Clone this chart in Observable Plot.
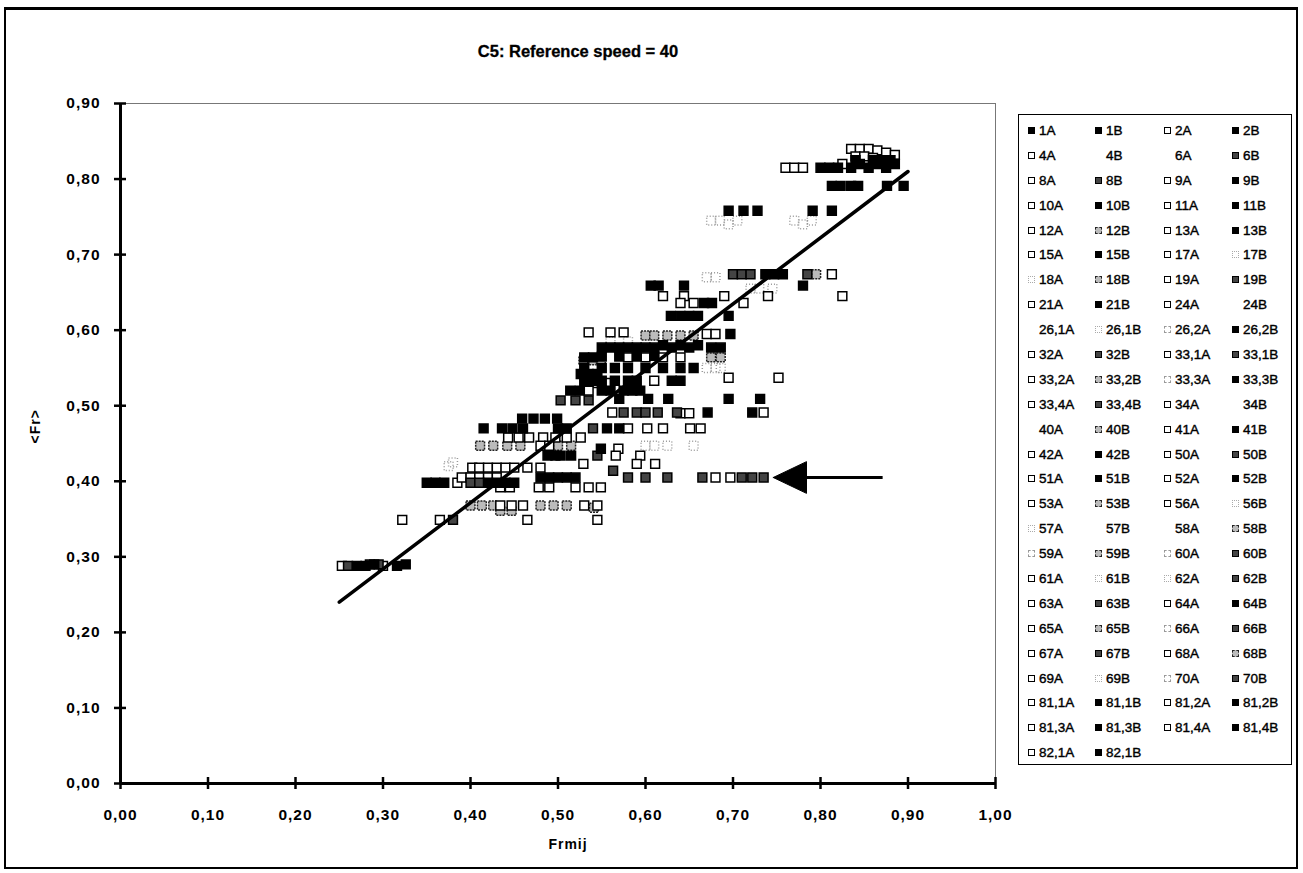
<!DOCTYPE html>
<html>
<head>
<meta charset="utf-8">
<script src="https://cdn.jsdelivr.net/npm/d3@7"></script>
<script src="https://cdn.jsdelivr.net/npm/@observablehq/plot@0.6"></script>
<style>
  html, body { margin: 0; padding: 0; background: #fff; }
  #page { position: relative; width: 1303px; height: 873px; overflow: hidden; font-family: "Liberation Sans", Arial, sans-serif; color: #000; }
  #outer { position: absolute; left: 4px; top: 7px; width: 1294px; height: 862px; box-sizing: border-box; border: 2px solid #000; border-top-width: 3px; }
  #title { position: absolute; left: 378px; width: 400px; top: 42px; text-align: center; font-size: 16.5px; font-weight: bold; -webkit-text-stroke: 0.3px #000; }
  #chart { position: absolute; left: 0; top: 0; }
  #legend { position: absolute; left: 1018px; top: 114px; width: 274px; height: 651px; box-sizing: border-box; border: 1px solid #000; padding: 3px 0 0 9px; display: grid; grid-template-columns: 67px 69px 68px 60px; grid-auto-rows: 24.9px; font-size: 13.5px; -webkit-text-stroke: 0.4px #000; background: #fff; }
  .item { display: flex; align-items: center; white-space: nowrap; }
  .mk { width: 7px; height: 7px; box-sizing: border-box; margin-right: 4px; flex: none; }
</style>
</head>
<body>
<div id="page">
  <div id="outer"></div>
  <div id="title">C5: Reference speed = 40</div>
  <div id="chart"></div>
  <div id="legend"></div>
</div>
<script>
// ---- axis ticks ----
const xTicks = [0, 0.1, 0.2, 0.3, 0.4, 0.5, 0.6, 0.7, 0.8, 0.9, 1.0];
const yTicks = [0, 0.1, 0.2, 0.3, 0.4, 0.5, 0.6, 0.7, 0.8, 0.9];
const xLabel = "Frmij";
const yLabel = "<Fr>";

// ---- legend series ----
const seriesNames = ["1A","1B","2A","2B","4A","4B","6A","6B","8A","8B","9A","9B","10A","10B","11A","11B","12A","12B","13A","13B","15A","15B","17A","17B","18A","18B","19A","19B","21A","21B","24A","24B","26,1A","26,1B","26,2A","26,2B","32A","32B","33,1A","33,1B","33,2A","33,2B","33,3A","33,3B","33,4A","33,4B","34A","34B","40A","40B","41A","41B","42A","42B","50A","50B","51A","51B","52A","52B","53A","53B","56A","56B","57A","57B","58A","58B","59A","59B","60A","60B","61A","61B","62A","62B","63A","63B","64A","64B","65A","65B","66A","66B","67A","67B","68A","68B","69A","69B","70A","70B","81,1A","81,1B","81,2A","81,2B","81,3A","81,3B","81,4A","81,4B","82,1A","82,1B"];
// marker style per series: F filled, D dark hatched, H light hatched, O hollow, W faint hollow, L faint, N none
const seriesStyles = ["F","F","O","F", "O","N","N","D", "O","D","O","F", "O","F","O","F", "O","H","O","F", "O","F","O","L", "L","H","O","D", "O","F","O","N", "N","L","W","F", "O","D","O","D", "O","H","W","F", "O","D","O","N", "N","H","O","F", "O","F","O","D", "O","F","O","F", "O","H","O","L", "L","N","N","H", "W","H","W","D", "O","L","L","D", "O","D","O","F", "O","H","W","D", "O","D","O","H", "O","L","W","D", "O","F","O","F", "O","F","O","F", "O","F"];

// ---- data points [Frmij, <Fr>] grouped by marker look ----
const filledPts = [
  [0.80,0.815],[0.81,0.815],[0.82,0.815],[0.835,0.815],[0.845,0.82],[0.855,0.815],[0.865,0.82],[0.875,0.815],[0.885,0.82],[0.84,0.825],[0.86,0.825],[0.87,0.825],[0.88,0.825],
  [0.813,0.791],[0.823,0.791],[0.835,0.791],[0.843,0.791],[0.876,0.791],[0.895,0.791],
  [0.695,0.758],[0.712,0.758],[0.728,0.758],[0.791,0.758],[0.813,0.758],
  [0.737,0.674],[0.747,0.674],[0.757,0.674],
  [0.606,0.659],[0.615,0.659],[0.644,0.659],[0.78,0.659],
  [0.667,0.636],[0.676,0.636],
  [0.629,0.619],[0.64,0.619],[0.65,0.619],[0.66,0.619],[0.695,0.619],
  [0.697,0.595],
  [0.55,0.577],[0.56,0.577],[0.57,0.577],[0.58,0.577],[0.59,0.577],[0.60,0.577],[0.61,0.577],[0.62,0.58],[0.63,0.577],[0.64,0.58],[0.65,0.577],[0.66,0.58],[0.675,0.577],[0.686,0.577],
  [0.53,0.564],[0.54,0.564],[0.55,0.565],[0.57,0.565],[0.59,0.565],[0.61,0.566],
  [0.53,0.55],[0.55,0.55],[0.565,0.55],[0.58,0.55],[0.60,0.55],[0.62,0.55],[0.64,0.55],[0.655,0.55],
  [0.526,0.542],[0.535,0.542],[0.545,0.542],
  [0.53,0.533],[0.54,0.533],[0.55,0.533],[0.565,0.533],[0.58,0.533],[0.59,0.533],[0.63,0.533],[0.64,0.533],
  [0.514,0.52],[0.525,0.52],[0.55,0.52],[0.56,0.52],[0.575,0.52],[0.585,0.52],[0.594,0.52],
  [0.57,0.509],[0.603,0.509],[0.626,0.509],[0.695,0.509],[0.731,0.509],
  [0.671,0.491],[0.722,0.491],
  [0.459,0.483],[0.472,0.483],[0.485,0.483],[0.499,0.483],
  [0.415,0.47],[0.436,0.47],[0.448,0.47],[0.46,0.47],[0.50,0.47],[0.51,0.47],[0.556,0.47],[0.57,0.47],
  [0.488,0.434],[0.497,0.434],[0.503,0.434],[0.515,0.434],
  [0.549,0.443],
  [0.48,0.405],[0.49,0.405],[0.50,0.405],[0.51,0.405],[0.52,0.405],
  [0.35,0.398],[0.36,0.398],[0.37,0.398],[0.42,0.398],[0.43,0.398],[0.44,0.398],[0.45,0.398],
  [0.27,0.288],[0.28,0.288],[0.29,0.29],[0.316,0.288],[0.326,0.29]
];
const darkPts = [
  [0.58,0.405],[0.60,0.405],[0.625,0.405],[0.665,0.405],[0.71,0.405],[0.722,0.405],[0.735,0.405],
  [0.70,0.674],[0.71,0.674],[0.72,0.674],[0.785,0.674],
  [0.26,0.288],[0.285,0.29],[0.295,0.29],
  [0.38,0.349],[0.40,0.398],[0.41,0.398],
  [0.575,0.491],[0.59,0.491],[0.60,0.491],[0.614,0.491],[0.636,0.491],
  [0.54,0.47],[0.545,0.434],[0.563,0.414],
  [0.503,0.507],[0.52,0.507],[0.535,0.507]
];
const hatchPts = [
  [0.411,0.447],[0.426,0.447],[0.442,0.447],[0.457,0.447],[0.50,0.447],[0.515,0.447],
  [0.40,0.368],[0.413,0.368],[0.426,0.368],[0.48,0.368],[0.495,0.368],[0.51,0.368],
  [0.434,0.361],[0.447,0.361],
  [0.529,0.56],[0.54,0.56],[0.549,0.56],
  [0.60,0.593],[0.61,0.593],[0.625,0.593],[0.64,0.593],[0.655,0.593],
  [0.675,0.564],[0.686,0.564],
  [0.541,0.365],[0.795,0.674]
];
const hollowPts = [
  [0.835,0.84],[0.845,0.84],[0.855,0.84],[0.865,0.838],[0.875,0.835],[0.885,0.832],[0.84,0.83],[0.85,0.83],[0.86,0.828],[0.825,0.82],
  [0.76,0.815],[0.77,0.815],[0.78,0.815],
  [0.813,0.674],
  [0.62,0.645],[0.644,0.645],[0.69,0.645],[0.74,0.645],[0.825,0.645],
  [0.64,0.636],[0.655,0.636],[0.712,0.636],
  [0.67,0.595],[0.68,0.595],[0.535,0.597],[0.56,0.597],[0.575,0.597],
  [0.58,0.564],[0.60,0.564],[0.62,0.564],[0.64,0.564],
  [0.545,0.53],[0.555,0.53],[0.535,0.52],[0.61,0.533],
  [0.695,0.537],[0.752,0.537],
  [0.443,0.458],[0.455,0.458],[0.467,0.458],[0.483,0.458],[0.497,0.458],[0.51,0.458],[0.526,0.458],
  [0.48,0.447],[0.49,0.447],
  [0.529,0.423],
  [0.402,0.418],[0.41,0.418],[0.42,0.418],[0.43,0.418],[0.44,0.418],[0.45,0.418],[0.465,0.418],[0.48,0.418],
  [0.385,0.398],[0.39,0.405],[0.40,0.405],[0.41,0.405],[0.42,0.405],[0.43,0.405],
  [0.434,0.392],[0.445,0.392],[0.478,0.392],[0.49,0.392],[0.52,0.392],[0.535,0.392],[0.549,0.392],
  [0.434,0.368],[0.447,0.368],[0.46,0.368],[0.53,0.368],[0.545,0.368],
  [0.322,0.349],[0.365,0.349],[0.465,0.349],[0.545,0.349],
  [0.253,0.288],[0.30,0.288],
  [0.562,0.491],[0.735,0.491],[0.58,0.47],[0.602,0.47],[0.62,0.47],[0.651,0.47],[0.663,0.47],
  [0.569,0.443],[0.566,0.434],[0.594,0.434],[0.59,0.423],[0.611,0.423],
  [0.68,0.405],[0.697,0.405],[0.64,0.49],[0.65,0.49]
];
const faintPts = [
  [0.675,0.745],[0.685,0.745],[0.695,0.74],[0.705,0.745],[0.77,0.745],[0.78,0.74],[0.79,0.745],
  [0.67,0.67],[0.68,0.67],[0.72,0.655],[0.73,0.655],[0.745,0.655],
  [0.60,0.447],[0.61,0.447],[0.625,0.447],[0.655,0.447],
  [0.375,0.42],[0.38,0.425],
  [0.67,0.55],[0.68,0.55],[0.686,0.55],
  [0.56,0.585],[0.58,0.585]
];

// ---- trend line and arrow annotation ----
const trendX = [0.25, 0.90];
const trendY = [0.24, 0.81];
const arrowTip = [0.746, 0.405];
const arrowHeadBase = [0.784, 0.021];  // x of head base, half-height of head
const arrowTailX = 0.871;

const fmt = d => d.toFixed(2).replace(".", ",");
const toObj = a => a.map(([x, y]) => ({x, y}));
const trend = trendX.map((x, i) => ({x, y: trendY[i]}));
const head = [
  {x: arrowTip[0], y: arrowTip[1]},
  {x: arrowHeadBase[0], y: arrowTip[1] + arrowHeadBase[1]},
  {x: arrowHeadBase[0], y: arrowTip[1] - arrowHeadBase[1]},
  {x: arrowTip[0], y: arrowTip[1]}
];
const R = 5;

const plot = Plot.plot({
  width: 1016,
  height: 873,
  marginLeft: 120,
  marginRight: 21,
  marginTop: 103,
  marginBottom: 90,
  style: {fontFamily: "'Liberation Sans', Arial, sans-serif", fontSize: "15.5px", fontWeight: "bold", background: "transparent", letterSpacing: "1px", overflow: "visible"},
  x: {domain: [0, 1], ticks: xTicks, tickFormat: fmt, tickSize: 0, tickPadding: 25, label: null},
  y: {domain: [0, 0.9], ticks: yTicks, tickFormat: fmt, tickSize: 0, tickPadding: 20, label: null},
  marks: [
    Plot.frame({stroke: "#777", strokeWidth: 1}),
    Plot.dot(toObj(faintPts), {x: "x", y: "y", symbol: "square", r: R, fill: "none", stroke: "#999", strokeDasharray: "1,2"}),
    Plot.dot(toObj(hatchPts), {x: "x", y: "y", symbol: "square", r: R, fill: "#bbb", stroke: "#222", strokeDasharray: "2,1"}),
    Plot.dot(toObj(hollowPts), {x: "x", y: "y", symbol: "square", r: R, fill: "#fff", stroke: "#000", strokeWidth: 1.5}),
    Plot.dot(toObj(darkPts), {x: "x", y: "y", symbol: "square", r: R, fill: "#444", stroke: "#000"}),
    Plot.dot(toObj(filledPts), {x: "x", y: "y", symbol: "square", r: R, fill: "#000", stroke: "#000"}),
    Plot.line(trend, {x: "x", y: "y", stroke: "#000", strokeWidth: 3.5}),
    Plot.link([{x1: arrowHeadBase[0], x2: arrowTailX, y: arrowTip[1]}], {x1: "x1", x2: "x2", y1: "y", y2: "y", stroke: "#000", strokeWidth: 3}),
    Plot.line(head, {x: "x", y: "y", fill: "#000", stroke: "#000", strokeWidth: 1}),
    Plot.ruleY([0], {stroke: "#000", strokeWidth: 3}),
    Plot.ruleX([0], {stroke: "#000", strokeWidth: 3}),
    Plot.ruleX(xTicks, {x: d => d, y1: 0, y2: 0, insetTop: -6, insetBottom: -6, stroke: "#000", strokeWidth: 2.5}),
    Plot.ruleY(yTicks, {y: d => d, x1: 0, x2: 0, insetLeft: -6, insetRight: -6, stroke: "#000", strokeWidth: 2.5}),
    Plot.text([xLabel], {frameAnchor: "bottom", dy: 65, dx: 10, fontSize: 14, fontWeight: "bold", letterSpacing: "0.5px"}),
    Plot.text([yLabel], {frameAnchor: "left", dx: -85, rotate: -90, fontSize: 14, fontWeight: "bold"})
  ]
});
document.getElementById("chart").appendChild(plot);

// ---- legend ----
const markStyle = {
  F: "background:#000;border:1px solid #000;",
  D: "background:#444;border:1px solid #000;",
  H: "background:#bbb;border:1px dashed #222;",
  O: "background:#fff;border:1.5px solid #000;",
  W: "background:#fff;border:1px dashed #999;",
  L: "background:none;border:1px dotted #aaa;",
  N: "visibility:hidden;"
};
const leg = document.getElementById("legend");
seriesNames.forEach((name, i) => {
  const item = document.createElement("div");
  item.className = "item";
  const mk = document.createElement("span");
  mk.className = "mk";
  mk.style.cssText = markStyle[seriesStyles[i]];
  const t = document.createElement("span");
  t.textContent = name;
  item.appendChild(mk);
  item.appendChild(t);
  leg.appendChild(item);
});
</script>
</body>
</html>
